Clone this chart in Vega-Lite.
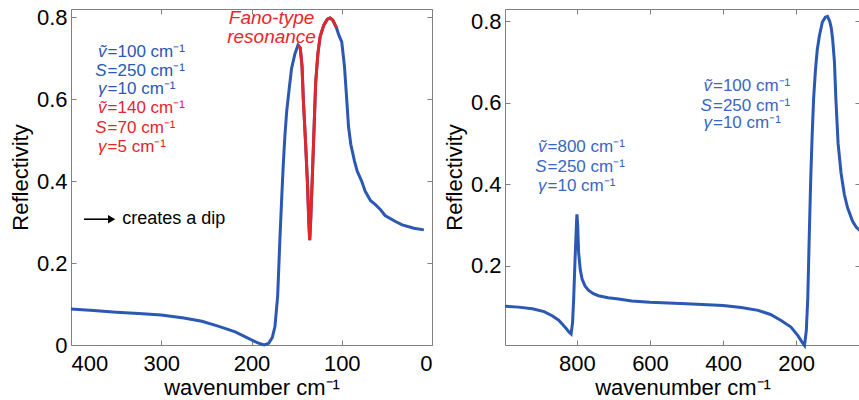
{
  "$schema": "https://vega.github.io/schema/vega-lite/v6.json",
  "padding": {"left": 8, "top": 5, "right": 0, "bottom": 0},
  "background": "white",
  "config": {
    "font": "Liberation Sans",
    "view": {"stroke": "#808080", "strokeWidth": 1},
    "axis": {
      "grid": false, "domain": false,
      "labelFontSize": 22, "titleFontSize": 22,
      "labelColor": "black", "titleColor": "black", "titleFontWeight": "normal",
      "tickColor": "#808080", "tickSize": -5, "labelPadding": 9
    }
  },
  "datasets": {
    "left": [
      {"w": 400, "R": 0.088, "s": "blue"}, {"w": 375, "R": 0.084, "s": "blue"}, {"w": 350, "R": 0.080, "s": "blue"},
      {"w": 325, "R": 0.077, "s": "blue"}, {"w": 300, "R": 0.073, "s": "blue"}, {"w": 275, "R": 0.066, "s": "blue"},
      {"w": 255, "R": 0.058, "s": "blue"}, {"w": 237, "R": 0.046, "s": "blue"}, {"w": 218, "R": 0.032, "s": "blue"},
      {"w": 204, "R": 0.017, "s": "blue"}, {"w": 193, "R": 0.005, "s": "blue"}, {"w": 186, "R": 0.000, "s": "blue"},
      {"w": 181, "R": 0.004, "s": "blue"}, {"w": 177, "R": 0.018, "s": "blue"}, {"w": 174, "R": 0.045, "s": "blue"},
      {"w": 171, "R": 0.12, "s": "blue"}, {"w": 168.5, "R": 0.26, "s": "blue"}, {"w": 166.5, "R": 0.36, "s": "blue"},
      {"w": 164.8, "R": 0.44, "s": "blue"}, {"w": 163, "R": 0.51, "s": "blue"}, {"w": 161, "R": 0.57, "s": "blue"},
      {"w": 158, "R": 0.63, "s": "blue"}, {"w": 155.6, "R": 0.675, "s": "blue"}, {"w": 152, "R": 0.71, "s": "blue"},
      {"w": 148.5, "R": 0.732, "s": "blue"}, {"w": 146, "R": 0.725, "s": "blue"}, {"w": 144, "R": 0.68, "s": "blue"},
      {"w": 142.6, "R": 0.60, "s": "blue"}, {"w": 140, "R": 0.49, "s": "blue"}, {"w": 138, "R": 0.395, "s": "blue"},
      {"w": 136.5, "R": 0.30, "s": "blue"}, {"w": 135.5, "R": 0.256, "s": "blue"}, {"w": 134.5, "R": 0.30, "s": "blue"},
      {"w": 132.6, "R": 0.41, "s": "blue"}, {"w": 130.5, "R": 0.54, "s": "blue"}, {"w": 128.9, "R": 0.64, "s": "blue"},
      {"w": 126.5, "R": 0.71, "s": "blue"}, {"w": 124, "R": 0.752, "s": "blue"}, {"w": 120, "R": 0.78, "s": "blue"},
      {"w": 116, "R": 0.795, "s": "blue"}, {"w": 113, "R": 0.798, "s": "blue"}, {"w": 110, "R": 0.793, "s": "blue"},
      {"w": 106, "R": 0.775, "s": "blue"}, {"w": 103, "R": 0.755, "s": "blue"}, {"w": 100, "R": 0.74, "s": "blue"},
      {"w": 97, "R": 0.68, "s": "blue"}, {"w": 94.5, "R": 0.60, "s": "blue"}, {"w": 92.6, "R": 0.535, "s": "blue"},
      {"w": 90, "R": 0.49, "s": "blue"}, {"w": 86, "R": 0.45, "s": "blue"}, {"w": 83, "R": 0.425, "s": "blue"},
      {"w": 78, "R": 0.40, "s": "blue"}, {"w": 74, "R": 0.375, "s": "blue"}, {"w": 68, "R": 0.352, "s": "blue"},
      {"w": 63, "R": 0.343, "s": "blue"}, {"w": 57, "R": 0.33, "s": "blue"}, {"w": 52, "R": 0.316, "s": "blue"},
      {"w": 41, "R": 0.302, "s": "blue"}, {"w": 33, "R": 0.293, "s": "blue"}, {"w": 20, "R": 0.285, "s": "blue"},
      {"w": 9, "R": 0.281, "s": "blue"},
      {"w": 148.5, "R": 0.732, "s": "red"}, {"w": 146, "R": 0.725, "s": "red"}, {"w": 144, "R": 0.68, "s": "red"},
      {"w": 142.6, "R": 0.60, "s": "red"}, {"w": 140, "R": 0.49, "s": "red"}, {"w": 138, "R": 0.395, "s": "red"},
      {"w": 136.5, "R": 0.30, "s": "red"}, {"w": 135.5, "R": 0.256, "s": "red"}, {"w": 134.5, "R": 0.30, "s": "red"},
      {"w": 132.6, "R": 0.41, "s": "red"}, {"w": 130.5, "R": 0.54, "s": "red"}, {"w": 128.9, "R": 0.64, "s": "red"},
      {"w": 126.5, "R": 0.71, "s": "red"}, {"w": 124, "R": 0.752, "s": "red"}, {"w": 120, "R": 0.78, "s": "red"},
      {"w": 116, "R": 0.795, "s": "red"}, {"w": 113, "R": 0.798, "s": "red"}, {"w": 110, "R": 0.793, "s": "red"},
      {"w": 106, "R": 0.775, "s": "red"}
    ],
    "right": [
      {"w": 997, "R": 0.100}, {"w": 960, "R": 0.098}, {"w": 922, "R": 0.094}, {"w": 890, "R": 0.087},
      {"w": 868, "R": 0.077}, {"w": 850, "R": 0.066}, {"w": 841, "R": 0.057}, {"w": 830, "R": 0.046},
      {"w": 822, "R": 0.037}, {"w": 816, "R": 0.032}, {"w": 812, "R": 0.06}, {"w": 809, "R": 0.118},
      {"w": 805, "R": 0.22}, {"w": 801, "R": 0.31}, {"w": 800, "R": 0.326}, {"w": 798, "R": 0.30},
      {"w": 795.5, "R": 0.233}, {"w": 791, "R": 0.19}, {"w": 786, "R": 0.167}, {"w": 778, "R": 0.15},
      {"w": 768, "R": 0.139}, {"w": 755, "R": 0.131}, {"w": 741, "R": 0.126}, {"w": 715, "R": 0.121},
      {"w": 686, "R": 0.118}, {"w": 650, "R": 0.113}, {"w": 600, "R": 0.110}, {"w": 500, "R": 0.106},
      {"w": 400, "R": 0.102}, {"w": 350, "R": 0.097}, {"w": 304, "R": 0.090}, {"w": 270, "R": 0.080},
      {"w": 241, "R": 0.065}, {"w": 214, "R": 0.049}, {"w": 195, "R": 0.028}, {"w": 185, "R": 0.014},
      {"w": 177, "R": 0.004}, {"w": 172, "R": 0.04}, {"w": 168, "R": 0.12}, {"w": 164, "R": 0.27},
      {"w": 160, "R": 0.41}, {"w": 156, "R": 0.52}, {"w": 152, "R": 0.61}, {"w": 147, "R": 0.68},
      {"w": 142, "R": 0.73}, {"w": 136, "R": 0.765}, {"w": 128, "R": 0.798}, {"w": 120, "R": 0.81},
      {"w": 114, "R": 0.812}, {"w": 108, "R": 0.80}, {"w": 104, "R": 0.785}, {"w": 100, "R": 0.757},
      {"w": 95, "R": 0.70}, {"w": 91, "R": 0.608}, {"w": 85, "R": 0.50}, {"w": 77, "R": 0.428},
      {"w": 68, "R": 0.375}, {"w": 59, "R": 0.342}, {"w": 45, "R": 0.308}, {"w": 35, "R": 0.294},
      {"w": 25, "R": 0.286}
    ],
    "leftText": [
      {"w": 360, "R": 0.715, "p": "ṽ", "t": "=100 cm⁻¹", "g": "blue"},
      {"w": 360, "R": 0.668, "p": "S", "t": "=250 cm⁻¹", "g": "blue"},
      {"w": 360, "R": 0.624, "p": "γ", "t": "=10 cm⁻¹", "g": "blue"},
      {"w": 360, "R": 0.578, "p": "ṽ", "t": "=140 cm⁻¹", "g": "red"},
      {"w": 360, "R": 0.529, "p": "S", "t": "=70 cm⁻¹", "g": "red"},
      {"w": 360, "R": 0.483, "p": "γ", "t": "=5 cm⁻¹", "g": "red"}
    ],
    "fano": [
      {"w": 177.8, "R": 0.798, "t": "Fano-type"},
      {"w": 177.8, "R": 0.751, "t": "resonance"}
    ],
    "dip": [{"w": 343.3, "R": 0.307, "t": "creates a dip", "w1": 385.6, "w2": 355}],
    "rightText": [
      {"w": 882, "R": 0.491, "p": "ṽ", "t": "=800 cm⁻¹"},
      {"w": 882, "R": 0.442, "p": "S", "t": "=250 cm⁻¹"},
      {"w": 882, "R": 0.395, "p": "γ", "t": "=10 cm⁻¹"},
      {"w": 429, "R": 0.641, "p": "ṽ", "t": "=100 cm⁻¹"},
      {"w": 429, "R": 0.593, "p": "S", "t": "=250 cm⁻¹"},
      {"w": 429, "R": 0.549, "p": "γ", "t": "=10 cm⁻¹"}
    ]
  },
  "hconcat": [
    {
      "width": 361, "height": 336,
      "layer": [
        {
          "data": {"name": "left"},
          "mark": {"type": "line", "strokeWidth": 3},
          "encoding": {
            "x": {"field": "w", "type": "quantitative", "scale": {"domain": [400, 0], "nice": false},
                  "axis": {"values": [400, 300, 200, 100, 0], "title": "wavenumber cm⁻¹", "titlePadding": 3, "labelPadding": 13}},
            "y": {"field": "R", "type": "quantitative", "scale": {"domain": [0, 0.82], "nice": false},
                  "axis": {"values": [0, 0.2, 0.4, 0.6, 0.8], "format": "~g", "title": "Reflectivity", "titlePadding": 4, "labelPadding": 9}},
            "color": {"field": "s", "type": "nominal", "scale": {"domain": ["blue", "red"], "range": ["#2b58b2", "#e3262b"]}, "legend": null}
          }
        },
        {
          "data": {"name": "left"},
          "mark": {"type": "point", "opacity": 0},
          "encoding": {
            "x": {"field": "w", "type": "quantitative", "axis": {"orient": "top", "values": [400, 300, 200, 100, 0], "labels": false, "title": null}},
            "y": {"field": "R", "type": "quantitative", "axis": {"orient": "right", "values": [0, 0.2, 0.4, 0.6, 0.8], "labels": false, "title": null}}
          }
        },
        {
          "data": {"name": "leftText"},
          "mark": {"type": "text", "align": "right", "baseline": "middle", "fontSize": 17, "fontStyle": "italic", "dx": -0.5},
          "encoding": {
            "x": {"field": "w", "type": "quantitative", "axis": null},
            "y": {"field": "R", "type": "quantitative", "axis": null},
            "text": {"field": "p"},
            "color": {"field": "g", "type": "nominal", "scale": {"domain": ["blue", "red"], "range": ["#3a66c2", "#e8262b"]}, "legend": null}
          }
        },
        {
          "data": {"name": "leftText"},
          "mark": {"type": "text", "align": "left", "baseline": "middle", "fontSize": 17, "dx": 0.5},
          "encoding": {
            "x": {"field": "w", "type": "quantitative", "axis": null},
            "y": {"field": "R", "type": "quantitative", "axis": null},
            "text": {"field": "t"},
            "color": {"field": "g", "type": "nominal", "scale": {"domain": ["blue", "red"], "range": ["#3a66c2", "#e8262b"]}, "legend": null}
          }
        },
        {
          "data": {"name": "fano"},
          "mark": {"type": "text", "align": "center", "baseline": "middle", "fontSize": 19, "fontStyle": "italic", "color": "#e8262b"},
          "encoding": {
            "x": {"field": "w", "type": "quantitative", "axis": null},
            "y": {"field": "R", "type": "quantitative", "axis": null},
            "text": {"field": "t"}
          }
        },
        {
          "data": {"name": "dip"},
          "mark": {"type": "rule", "strokeWidth": 1.6, "color": "black"},
          "encoding": {
            "x": {"field": "w1", "type": "quantitative", "axis": null},
            "x2": {"field": "w2"},
            "y": {"field": "R", "type": "quantitative", "axis": null}
          }
        },
        {
          "data": {"name": "dip"},
          "mark": {"type": "point", "shape": "triangle-right", "filled": true, "size": 70, "color": "black", "opacity": 1},
          "encoding": {
            "x": {"field": "w2", "type": "quantitative", "axis": null},
            "y": {"field": "R", "type": "quantitative", "axis": null}
          }
        },
        {
          "data": {"name": "dip"},
          "mark": {"type": "text", "align": "left", "baseline": "middle", "fontSize": 18, "color": "black"},
          "encoding": {
            "x": {"field": "w", "type": "quantitative", "axis": null},
            "y": {"field": "R", "type": "quantitative", "axis": null},
            "text": {"field": "t"}
          }
        }
      ],
      "resolve": {"axis": {"x": "independent", "y": "independent"}}
    },
    {
      "width": 355, "height": 336,
      "layer": [
        {
          "data": {"name": "right"},
          "mark": {"type": "line", "strokeWidth": 3, "color": "#2b58b2"},
          "encoding": {
            "x": {"field": "w", "type": "quantitative", "scale": {"domain": [997, 25], "nice": false},
                  "axis": {"values": [800, 600, 400, 200], "title": "wavenumber cm⁻¹", "titlePadding": 3, "labelPadding": 13}},
            "y": {"field": "R", "type": "quantitative", "scale": {"domain": [0.005, 0.83], "nice": false},
                  "axis": {"values": [0.2, 0.4, 0.6, 0.8], "format": "~g", "title": "Reflectivity", "titlePadding": 4, "labelPadding": 9}}
          }
        },
        {
          "data": {"name": "right"},
          "mark": {"type": "point", "opacity": 0},
          "encoding": {
            "x": {"field": "w", "type": "quantitative", "axis": {"orient": "top", "values": [800, 600, 400, 200], "labels": false, "title": null}},
            "y": {"field": "R", "type": "quantitative", "axis": {"orient": "right", "values": [0.2, 0.4, 0.6, 0.8], "labels": false, "title": null}}
          }
        },
        {
          "data": {"name": "rightText"},
          "mark": {"type": "text", "align": "right", "baseline": "middle", "fontSize": 17, "fontStyle": "italic", "color": "#3a66c2", "dx": -0.5},
          "encoding": {
            "x": {"field": "w", "type": "quantitative", "axis": null},
            "y": {"field": "R", "type": "quantitative", "axis": null},
            "text": {"field": "p"}
          }
        },
        {
          "data": {"name": "rightText"},
          "mark": {"type": "text", "align": "left", "baseline": "middle", "fontSize": 17, "color": "#3a66c2", "dx": 0.5},
          "encoding": {
            "x": {"field": "w", "type": "quantitative", "axis": null},
            "y": {"field": "R", "type": "quantitative", "axis": null},
            "text": {"field": "t"}
          }
        }
      ],
      "resolve": {"axis": {"x": "independent", "y": "independent"}}
    }
  ],
  "spacing": 73,
  "bounds": "flush"
}
